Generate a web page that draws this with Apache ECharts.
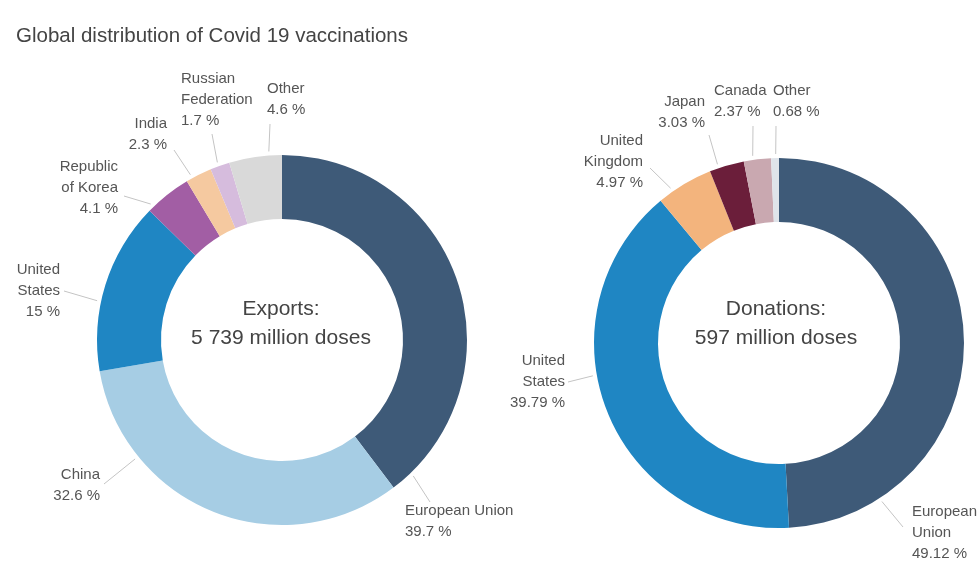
<!DOCTYPE html>
<html>
<head>
<meta charset="utf-8">
<script src="https://cdn.jsdelivr.net/npm/echarts@6/dist/echarts.min.js"></script>
<style>
  html, body { margin: 0; padding: 0; background: #fff; }
  #chart { width: 979px; height: 568px; }
</style>
</head>
<body>
<div id="chart"></div>
<script>
// exports
const exportNames = ['European Union', 'China', 'United\nStates', 'Republic\nof Korea', 'India', 'Russian\nFederation', 'Other']
const exportValues = [39.7, 32.6, 15, 4.1, 2.3, 1.7, 4.6]
const exportColors = ['#3e5a78', '#a6cde4', '#1f86c3', '#a25ea4', '#f5c9a0', '#d6bcdd', '#d9d9d9']

// donations
const donationNames = ['European\nUnion', 'United\nStates', 'United\nKingdom', 'Japan', 'Canada', 'Other']
const donationValues = [49.12, 39.79, 4.97, 3.03, 2.37, 0.68]
const donationColors = ['#3e5a78', '#1f86c3', '#f3b47d', '#6b1e3a', '#c9a8b0', '#dfe4ea']

const FONT = '"Liberation Sans", "DejaVu Sans", sans-serif'
const R_IN = 121, R_OUT = 185

// where each label sits: text anchor, leader start angle (deg clockwise from top), leader end
const exportLabels = [
  { x: 405, y: 521, align: 'left', ang: 136, end: [430, 502] },
  { x: 100, y: 485, align: 'right', ang: 231, end: [104, 484] },
  { x: 60, y: 291, align: 'right', ang: 282, end: [64, 291] },
  { x: 118, y: 188, align: 'right', ang: 316, end: [124, 196] },
  { x: 167, y: 134, align: 'right', ang: 331, end: [174, 150] },
  { x: 181, y: 100, align: 'left', ang: 340, end: [212, 134] },
  { x: 267, y: 99, align: 'left', ang: 356, end: [270, 124] }
]
const donationLabels = [
  { x: 912, y: 533, align: 'left', ang: 147, end: [903, 527] },
  { x: 565, y: 382, align: 'right', ang: 260, end: [568, 382] },
  { x: 643, y: 162, align: 'right', ang: 325, end: [650, 168] },
  { x: 705, y: 112, align: 'right', ang: 341, end: [709, 135] },
  { x: 714, y: 101, align: 'left', ang: 352, end: [753, 126] },
  { x: 773, y: 101, align: 'left', ang: 359, end: [776, 126] }
]

const chart = echarts.init(document.getElementById('chart'))

function donut(names, values, colors, center, spots) {
  return {
    type: 'pie',
    center: center,
    radius: [R_IN, R_OUT],
    startAngle: 90,
    clockwise: true,
    avoidLabelOverlap: false,
    silent: true,
    data: names.map((n, i) => ({ name: n, value: values[i], itemStyle: { color: colors[i] } })),
    label: {
      show: true,
      position: 'outside',
      formatter: p => p.name + '\n' + p.value + ' %',
      color: '#555',
      fontFamily: FONT,
      fontSize: 15,
      lineHeight: 21
    },
    labelLine: {
      show: true,
      lineStyle: { color: '#c4c4c4', width: 1 }
    },
    labelLayout: p => {
      const s = spots[p.dataIndex]
      const a = s.ang * Math.PI / 180
      const r = R_OUT + 4
      const start = [center[0] + r * Math.sin(a), center[1] - r * Math.cos(a)]
      return {
        x: s.x,
        y: s.y,
        align: s.align,
        verticalAlign: 'middle',
        hideOverlap: false,
        labelLinePoints: [start, s.end, s.end]
      }
    }
  }
}

chart.setOption({
  animation: false,
  title: {
    text: 'Global distribution of Covid 19 vaccinations',
    left: 11,
    top: 21,
    textStyle: { fontFamily: FONT, fontSize: 20.5, fontWeight: 'normal', color: '#444' }
  },
  graphic: [
    {
      type: 'text', x: 281, y: 295,
      style: { text: 'Exports:\n5 739 million doses', textAlign: 'center', fontFamily: FONT, fontSize: 21, lineHeight: 29, fill: '#444' }
    },
    {
      type: 'text', x: 776, y: 295,
      style: { text: 'Donations:\n597 million doses', textAlign: 'center', fontFamily: FONT, fontSize: 21, lineHeight: 29, fill: '#444' }
    }
  ],
  series: [
    donut(exportNames, exportValues, exportColors, [282, 340], exportLabels),
    donut(donationNames, donationValues, donationColors, [779, 343], donationLabels)
  ]
})
</script>
</body>
</html>
